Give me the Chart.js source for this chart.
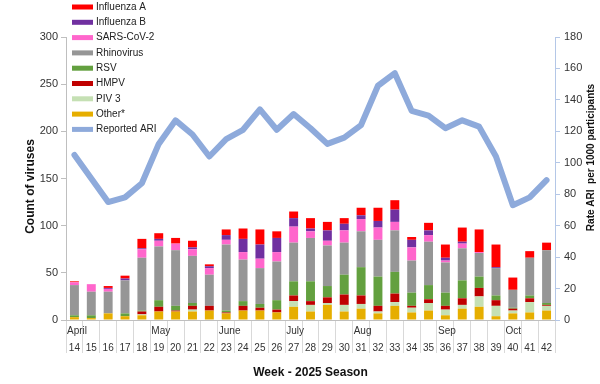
<!DOCTYPE html>
<html>
<head>
<meta charset="utf-8">
<script src="https://cdn.jsdelivr.net/npm/chart.js@4"></script>
<style>
  body { margin: 0; background: #fff; }
  #wrap { width: 600px; height: 384px; position: relative; }
</style>
</head>
<body>
<div id="wrap"><canvas id="chart"></canvas></div>
<script>
// weeks of the 2025 season
const weeks = ['14','15','16','17','18','19','20','21','22','23','24','25','26','27','28',
  '29','30','31','32','33','34','35','36','37','38','39','40','41','42'];

// month label and the week it starts at
const monthLabels = ['April', 'May', 'June', 'July', 'Aug', 'Sep', 'Oct'];
const monthStart = ['14', '19', '23', '27', '31', '36', '40'];

// virus counts per week (bottom of the stack first)
const other     = [3, 2, 7, 4, 5, 9, 9, 9, 10, 7, 10, 10, 8, 14, 9, 16, 9, 12, 7, 15, 8, 10, 5, 12, 14, 4, 7, 8, 10];
const piv3      = [0, 0, 0, 0, 1, 0, 0, 2, 0, 0, 0, 0, 0, 6, 7, 2, 7, 5, 2, 4, 5, 8, 6, 4, 11, 11, 3, 11, 5];
const hmpv      = [0, 0, 0, 0, 3, 5, 1, 4, 5, 1, 5, 3, 3, 6, 4, 6, 11, 9, 6, 9, 2, 4, 4, 7, 9, 6, 2, 4, 1];
const rsv       = [2, 3, 0, 3, 1, 7, 5, 3, 0, 2, 5, 4, 10, 15, 21, 12, 21, 30, 31, 23, 14, 15, 14, 19, 12, 5, 1, 3, 2];
const rhino     = [32, 25, 23, 35, 56, 57, 59, 50, 33, 70, 44, 38, 41, 41, 46, 43, 34, 38, 39, 44, 34, 46, 32, 34, 25, 29, 19, 40, 56];
const sarsCov2  = [3, 8, 3, 0, 9, 6, 7, 7, 7, 5, 8, 10, 10, 17, 7, 5, 13, 13, 13, 9, 14, 7, 2, 5, 1, 0, 0, 0, 0];
const fluB      = [0, 0, 1, 2, 1, 2, 0, 2, 2, 5, 14, 15, 15, 9, 3, 11, 7, 4, 7, 13, 8, 5, 3, 2, 0, 1, 0, 0, 0];
const fluA      = [1, 0, 2, 3, 10, 6, 6, 7, 2, 6, 11, 16, 7, 7, 11, 9, 6, 8, 14, 10, 3, 8, 14, 15, 24, 24, 13, 7, 8];

// reported ARI rate per 1000 participants (right axis)
const reportedAri = [105, 90, 75, 78, 87, 112, 127, 118, 104, 115, 121, 134, 121, 131, 122,
  112, 116, 124, 149, 157, 133, 130, 122, 127, 123, 104, 73, 78, 89];

const FONT = 'Liberation Sans, Arial, sans-serif';

function bars(label, data, color) {
  return {
    type: 'bar', label: label, data: data, backgroundColor: color,
    yAxisID: 'y', stack: 'v', order: 1,
    barPercentage: 0.53, categoryPercentage: 1
  };
}

// bottom to top
const datasets = [
  bars('Other*', other, '#e6ae00'),
  bars('PIV 3', piv3, '#c5e0b4'),
  bars('HMPV', hmpv, '#c00000'),
  bars('RSV', rsv, '#63a03f'),
  bars('Rhinovirus', rhino, '#969696'),
  bars('SARS-CoV-2', sarsCov2, '#ff66cc'),
  bars('Influenza B', fluB, '#7030a0'),
  bars('Influenza A', fluA, '#ff0000'),
  {
    type: 'line', label: 'Reported ARI', data: reportedAri, yAxisID: 'y2', order: 0,
    borderColor: '#8eaadb', backgroundColor: '#8eaadb', borderWidth: 6,
    pointRadius: 0, tension: 0, borderJoinStyle: 'round', borderCapStyle: 'round'
  }
];

// month names under the axis, left aligned at the first week of each month
const monthPlugin = {
  id: 'months',
  afterDraw(chart) {
    const xs = chart.scales.x;
    const ctx = chart.ctx;
    const half = (xs.getPixelForValue(1) - xs.getPixelForValue(0)) / 2;
    ctx.save();
    ctx.font = '10px ' + FONT;
    ctx.fillStyle = '#333';
    ctx.textAlign = 'left';
    ctx.textBaseline = 'top';
    monthLabels.forEach((m, i) => {
      const idx = weeks.indexOf(monthStart[i]);
      ctx.fillText(m, xs.getPixelForValue(idx) - half + 1, xs.top + 6);
    });
    ctx.restore();
  }
};

// both vertical axis titles read bottom to top
const axisTitlePlugin = {
  id: 'axisTitles',
  afterDraw(chart) {
    const ctx = chart.ctx;
    const area = chart.chartArea;
    const drawTitle = (text, x, y, size) => {
      ctx.save();
      ctx.translate(x, y);
      ctx.rotate(-Math.PI / 2);
      ctx.font = 'bold ' + size + 'px ' + FONT;
      ctx.fillStyle = '#111';
      ctx.textAlign = 'center';
      ctx.textBaseline = 'middle';
      ctx.fillText(text, 0, 0);
      ctx.restore();
    };
    drawTitle('Count of viruses', 31, (area.top + area.bottom) / 2 + 8, 12);
    drawTitle('Rate ARI  per 1000 participants', 591, (area.top + area.bottom) / 2 - 21, 10);
  }
};

// vertical legend in the top left corner
const legendPlugin = {
  id: 'sideLegend',
  afterDraw(chart) {
    const ctx = chart.ctx;
    const items = chart.data.datasets.filter(d => d.type === 'bar').slice().reverse();
    items.push(chart.data.datasets.find(d => d.type === 'line'));
    ctx.save();
    ctx.font = '10px ' + FONT;
    ctx.textBaseline = 'middle';
    items.forEach((d, i) => {
      const y = 7 + i * 15.3;
      ctx.fillStyle = d.type === 'line' ? d.borderColor : d.backgroundColor;
      ctx.fillRect(72, y - 2.5, 21, 5);
      ctx.fillStyle = '#222';
      ctx.fillText(d.label, 96, y);
    });
    ctx.restore();
  }
};

new Chart(document.getElementById('chart'), {
  data: { labels: weeks, datasets: datasets },
  plugins: [monthPlugin, axisTitlePlugin, legendPlugin],
  options: {
    responsive: true,
    maintainAspectRatio: false,
    animation: false,
    layout: { padding: { top: 37, left: 0, right: 0, bottom: 0 } },
    plugins: { legend: { display: false }, tooltip: { enabled: false } },
    scales: {
      x: {
        stacked: true,
        offset: true,
        grid: { offset: true, drawOnChartArea: false, tickLength: 33, color: '#d9d9d9' },
        border: { color: '#bfbfbf' },
        ticks: { padding: -11, autoSkip: false, maxRotation: 0, color: '#333', font: { family: FONT, size: 10 } },
        title: { display: true, text: 'Week - 2025 Season', color: '#111',
          font: { family: FONT, size: 12, weight: 'bold' }, padding: { top: 4, bottom: 4 } },
        afterFit(s) { s.height = 64; }
      },
      y: {
        stacked: true, min: 0, max: 300,
        grid: { drawOnChartArea: false, tickLength: 5, color: '#bfbfbf' },
        border: { color: '#bfbfbf' },
        ticks: { stepSize: 50, padding: 3, color: '#333', font: { family: FONT, size: 11 } },
        afterFit(s) { s.width = 66; }
      },
      y2: {
        position: 'right', min: 0, max: 180,
        grid: { drawOnChartArea: false, tickLength: 5, color: '#b4c7e7' },
        border: { color: '#b4c7e7' },
        ticks: { stepSize: 20, padding: 4, color: '#333', font: { family: FONT, size: 11 } },
        afterFit(s) { s.width = 45; }
      }
    }
  }
});
</script>
</body>
</html>
